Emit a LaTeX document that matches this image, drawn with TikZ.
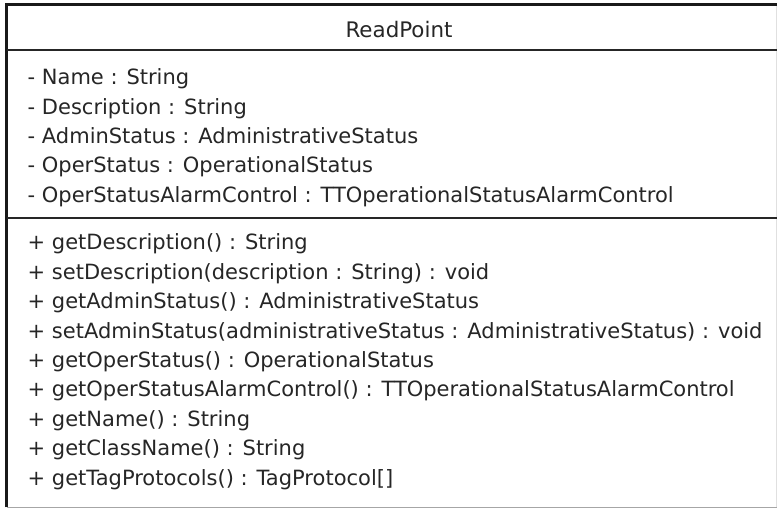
\documentclass[tikz,border=0pt]{standalone}
\usepackage{fontspec}
\setmainfont{DejaVu Sans}
\begin{document}
\begin{tikzpicture}[x=1pt,y=-1pt,
  member/.style={anchor=base west,inner sep=0pt,font=\fontsize{21}{24}\selectfont,text=black!85},
  title/.style={anchor=base,inner sep=0pt,font=\fontsize{21.4}{24}\selectfont,text=black!85},
  border/.style={line width=3pt,black!90},
  sep/.style={line width=2.4pt,black!85}]
\useasboundingbox (0,0) rectangle (777,510);
\fill[white] (0,0) rectangle (777,510);
% outer frame
\coordinate (tl) at (6.5,5);
\coordinate (tr) at (777,5);
\coordinate (bl) at (6.5,507.5);
\coordinate (br) at (777,507.5);
\draw[black!35,line width=1.5pt] (bl) -- (br);
\draw[black!12,line width=1pt] (776,5) -- (776,507.5);
\draw[border] (bl) -- (tl) -- (tr);
% separators
\coordinate (h1) at (6.5,50);
\coordinate (h2) at (777,50);
\coordinate (a1) at (6.5,218);
\coordinate (a2) at (777,218);
\draw[sep] (h1) -- (h2);
\draw[sep] (a1) -- (a2);
% title
\node[title] (name) at (399,38) {ReadPoint};
% attributes
\node[member] (at1) at (27.5,85) {- Name : String};
\node[member] (at2) at (27.5,114.3) {- Description : String};
\node[member] (at3) at (27.5,143.6) {- AdminStatus : AdministrativeStatus};
\node[member] (at4) at (27.5,172.9) {- OperStatus : OperationalStatus};
\node[member] (at5) at (27.5,202.2) {- OperStatusAlarmControl : TTOperationalStatusAlarmControl};
% methods
\node[member] (m1) at (27.5,250) {+ getDescription() : String};
\node[member] (m2) at (27.5,279.4) {+ setDescription(description : String) : void};
\node[member] (m3) at (27.5,308.8) {+ getAdminStatus() : AdministrativeStatus};
\node[member] (m4) at (27.5,338.2) {+ setAdminStatus(administrativeStatus : AdministrativeStatus) : void};
\node[member] (m5) at (27.5,367.6) {+ getOperStatus() : OperationalStatus};
\node[member] (m6) at (27.5,397) {+ getOperStatusAlarmControl() : TTOperationalStatusAlarmControl};
\node[member] (m7) at (27.5,426.4) {+ getName() : String};
\node[member] (m8) at (27.5,455.8) {+ getClassName() : String};
\node[member] (m9) at (27.5,485.2) {+ getTagProtocols() : TagProtocol[]};
\end{tikzpicture}
\end{document}
